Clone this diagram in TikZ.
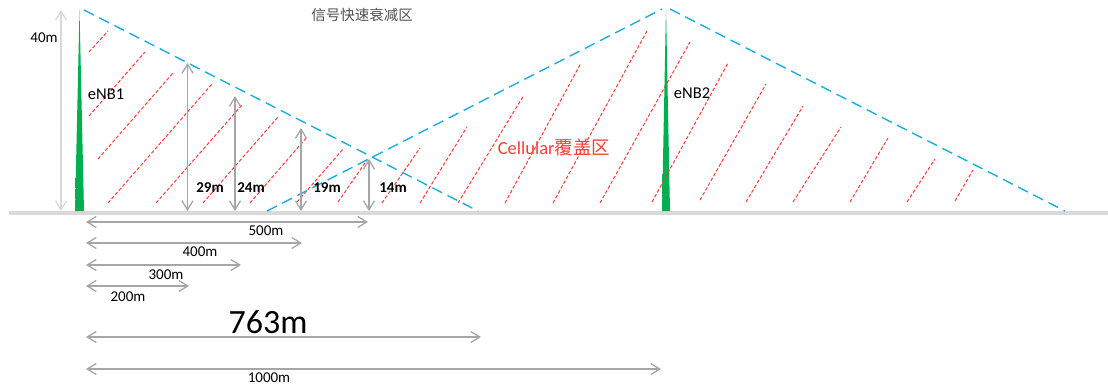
\documentclass[tikz,border=0pt]{standalone}
\usepackage{fontspec}
\setmainfont{Carlito}
\newfontfamily\cjk{Noto Sans CJK SC}
\usetikzlibrary{arrows.meta}
\definecolor{twgreen}{HTML}{00B050}
\definecolor{skyb}{HTML}{1AADE4}
\definecolor{hatchred}{HTML}{FF3B3B}
\definecolor{dimgray}{HTML}{A6A6A6}
\definecolor{lightg}{HTML}{D9D9D9}
\definecolor{txtgray}{HTML}{505050}
\pgfdeclareverticalshading{towershade}{100bp}{color(0bp)=(twgreen); color(72bp)=(twgreen); color(100bp)=(white)}
\begin{document}
\begin{tikzpicture}[x=1pt,y=-1pt,
  dimarrow/.style={draw=dimgray, line width=1.3pt, {Straight Barb[length=9pt,width=11pt]}-{Straight Barb[length=9pt,width=11pt]}},
  hatch/.style={draw=hatchred, line width=1pt, dash pattern=on 3.5pt off 2pt},
  edge/.style={draw=skyb, line width=1.4pt, dash pattern=on 11pt off 6pt},
  lbl/.style={inner sep=0pt, font=\fontsize{15}{16}\selectfont},
  blbl/.style={inner sep=0pt, font=\fontsize{15}{16}\selectfont\bfseries},
  tower/.style={shading=towershade}]
\useasboundingbox (0,0) rectangle (1108,389);

% ground
\draw[lightg, line width=4pt] (9,212.5) -- (1108,212.5);

% towers
\shade[tower] (75,211) -- (79.5,10) -- (84,211) -- cycle;
\shade[tower] (662,211) -- (666,8) -- (670,211) -- cycle;

% hatching, left region
\foreach \a/\b/\c/\d in {89/52/108/31, 89/116/145/52, 98/159/173/73, 108/203/212/84,
  156/203/242/105, 203/203/278/117, 250/203/307/137, 297/202/344/148, 338/202/367/160}
  \draw[hatch] (\a,\b) -- (\c,\d);
% hatching, right region
\foreach \a/\b/\c/\d in {382/203/420/148, 420/203/467/127, 458/203/524/95, 505/203/581/63,
  553/203/647/31, 600/203/690/42, 652/202/728/63, 700/200/766/84, 746/202/803/106,
  793/202/841/127, 850/202/888/138, 907/202/935/159, 955/201/973/170}
  \draw[hatch] (\a,\b) -- (\c,\d);

% coverage edges
\coordinate (e1top) at (84,10);
\coordinate (e1end) at (478,211);
\coordinate (e2l) at (267,211);
\coordinate (e2topl) at (662,9);
\coordinate (e2topr) at (670,9);
\coordinate (e2end) at (1065,211);
\draw[edge] (e1top) -- (e1end);
\draw[edge] (e2l) -- (e2topl);
\draw[edge] (e2topr) -- (e2end);

% vertical dimensions
\coordinate (t40) at (61,10);   \coordinate (b40) at (61,211);
\coordinate (t29) at (187.5,63); \coordinate (b29) at (187.5,211);
\coordinate (t24) at (235,96);   \coordinate (b24) at (235,211);
\coordinate (t19) at (301,128);  \coordinate (b19) at (301,211);
\coordinate (t14) at (369,159);  \coordinate (b14) at (369,211);
\draw[dimarrow, draw=lightg] (t40) -- (b40);
\draw[dimarrow] (t29) -- (b29);
\draw[dimarrow] (t24) -- (b24);
\draw[dimarrow] (t19) -- (b19);
\draw[dimarrow] (t14) -- (b14);

% horizontal dimensions
\coordinate (o500) at (86,222); \coordinate (e500) at (368,222);
\coordinate (o400) at (86,243); \coordinate (e400) at (302,243);
\coordinate (o300) at (86,265); \coordinate (e300) at (241,265);
\coordinate (o200) at (86,286); \coordinate (e200) at (189,286);
\coordinate (o763) at (86,337); \coordinate (e763) at (481,337);
\coordinate (o1000) at (86,369); \coordinate (e1000) at (661,369);
\draw[dimarrow] (o500) -- (e500);
\draw[dimarrow] (o400) -- (e400);
\draw[dimarrow] (o300) -- (e300);
\draw[dimarrow] (o200) -- (e200);
\draw[dimarrow] (o763) -- (e763);
\draw[dimarrow] (o1000) -- (e1000);

% labels
\node[lbl] (l40) at (44,38) {40m};
\node[lbl, font=\fontsize{16.5}{18}\selectfont] (enb1) at (106,94) {eNB1};
\node[lbl, font=\fontsize{16.5}{18}\selectfont] (enb2) at (692,93) {eNB2};
\node[blbl] (l29) at (210,188) {29m};
\node[blbl] (l24) at (251,188) {24m};
\node[blbl] (l19) at (327,188) {19m};
\node[blbl] (l14) at (393,188) {14m};
\node[lbl] (l500) at (266,230.5) {500m};
\node[lbl] (l400) at (200,251.5) {400m};
\node[lbl] (l300) at (166,274.5) {300m};
\node[lbl] (l200) at (128,297) {200m};
\node[lbl, font=\fontsize{34}{36}\selectfont] (l763) at (268,322) {763m};
\node[lbl] (l1000) at (269,377.5) {1000m};
\node[lbl, text=txtgray, font=\fontsize{14.5}{16}\selectfont\cjk] (decay) at (362,15) {信号快速衰减区};
\node[lbl, text=hatchred, font=\fontsize{18.5}{20}\selectfont] (cell) at (554,147) {Cellular{\cjk 覆盖区}};
\end{tikzpicture}
\end{document}
